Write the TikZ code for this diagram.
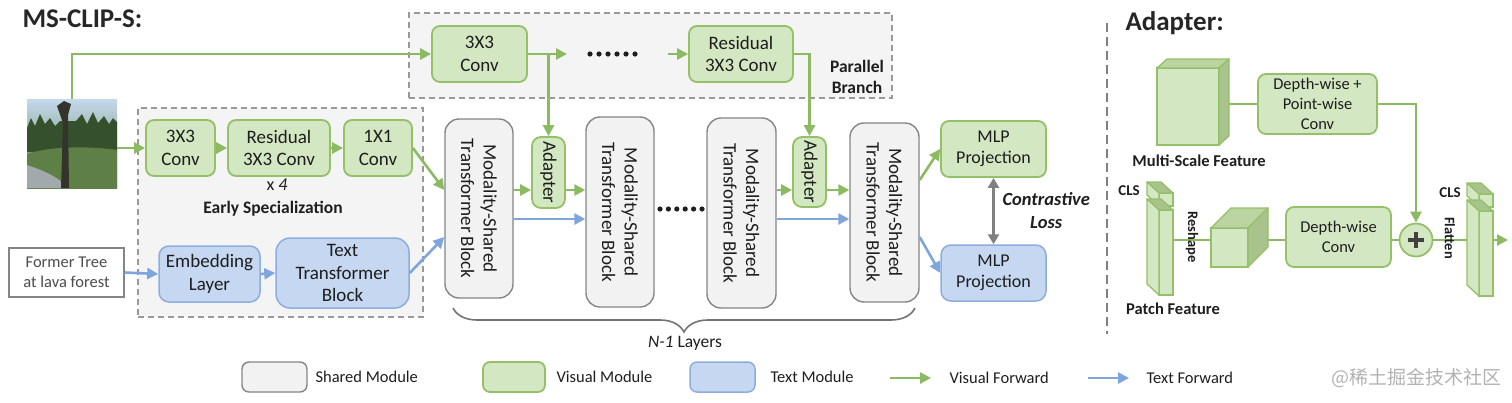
\documentclass[tikz,border=0pt]{standalone}
\usepackage{fontspec}
\setmainfont{Carlito}
\newfontfamily\cjkfont{Noto Sans CJK SC}
\usetikzlibrary{arrows.meta,calc,decorations.pathreplacing}

\definecolor{visfill}{HTML}{D4E7C3}
\definecolor{visdraw}{HTML}{94C067}
\definecolor{visline}{HTML}{8CBA62}
\definecolor{visside}{HTML}{A8C38C}
\definecolor{vistop}{HTML}{BCD4A2}
\definecolor{txtfill}{HTML}{C5D7F1}
\definecolor{txtdraw}{HTML}{8EADDC}
\definecolor{txtline}{HTML}{7EA6DD}
\definecolor{shfill}{HTML}{F2F2F2}
\definecolor{shdraw}{HTML}{858585}
\definecolor{regionfill}{HTML}{F4F4F4}
\definecolor{ink}{HTML}{1E1E1E}
\definecolor{skytop}{HTML}{C4D9EE}
\definecolor{treedark}{HTML}{34502D}
\definecolor{shrub}{HTML}{5E8046}
\definecolor{trail}{HTML}{A2A9AD}
\definecolor{trunk}{HTML}{34342B}

% name, centre, width, height, depth x, depth y, side edge, top fill, side fill
\newcommand\featbox[9]{%
  \node[featfront, minimum width=#3, minimum height=#4] (#1) at (#2) {};
  \filldraw[featface, fill=#8] (#1.north west) -- ++(#5,#6) -- ($(#1.north east)+(#5,#6)$) -- (#1.north east) -- cycle;
  \filldraw[featface, fill=#9] (#1.north #7) -- ++(#5,#6) -- ($(#1.south #7)+(#5,#6)$) -- (#1.south #7) -- cycle;
}

\begin{document}
\begin{tikzpicture}[x=1pt, y=-1pt,
	every node/.style={font=\fontsize{19}{22.5}\selectfont, text=ink, align=center},
	region/.style={draw=gray!80, fill=regionfill, line width=1.2pt, dash pattern=on 6pt off 4pt},
	shared/.style={draw=shdraw, fill=shfill, line width=1.4pt, rounded corners=14pt},
	visual/.style={draw=visdraw, fill=visfill, line width=1.8pt, rounded corners=8pt},
	textual/.style={draw=txtdraw, fill=txtfill, line width=1.5pt, rounded corners=10pt},
	featfront/.style={draw=visdraw, fill=visfill, line width=1.3pt, inner sep=0pt, outer sep=0pt},
	featface/.style={draw=visdraw, line width=1.3pt, line join=round},
	vline/.style={draw=visline, line width=2.6pt},
	vflow/.style={vline, -{Triangle[length=11pt, width=11pt]}},
	tflow/.style={draw=txtline, line width=2.6pt, -{Triangle[length=11pt, width=11pt]}},
	heading/.style={font=\bfseries\fontsize{27}{30}\selectfont, text=black!85, anchor=base west},
	boldtag/.style={font=\bfseries\fontsize{17.5}{20.5}\selectfont},
	feattag/.style={font=\bfseries\fontsize{16.5}{20}\selectfont},
	adtext/.style={font=\fontsize{16.5}{20}\selectfont},
	legtext/.style={font=\fontsize{16.5}{20}\selectfont, anchor=west}]
\useasboundingbox (0,0) rectangle (1512,402);

\node[heading] (title) at (19,27) {MS-CLIP-S:};
\node[heading] (adtitle) at (1122,30) {Adapter:};

% dashed regions
\node[region, minimum width=483, minimum height=85] (parallel) at (650.5,55.5) {};
\node[region, minimum width=285, minimum height=209] (early) at (280.5,212.5) {};
\node[boldtag] (partag) at (857,77) {Parallel\\Branch};
\node[boldtag] (earlytag) at (273,209) {Early Specialization};

% input photo
\node[inner sep=0pt, minimum width=90, minimum height=89, top color=skytop, bottom color=shrub] (img) at (72,143.5) {};
\fill[treedark] (27,128) -- (31,118) -- (35,126) -- (40,114) -- (45,124) -- (50,118) -- (55,126) -- (60,121) -- (76,121) -- (82,114) -- (87,124) -- (93,112) -- (98,123) -- (104,116) -- (109,124) -- (113,118) -- (117,122) -- (117,152) -- (27,152) -- cycle;
\fill[shrub] (27,154) .. controls (50,146) and (90,146) .. (117,150) -- (117,188) -- (27,188) -- cycle;
\fill[trail] (27,165) .. controls (45,171) and (60,178) .. (68,188) -- (27,188) -- cycle;
\fill[trunk] (61,188) -- (63,123) -- (57,106) -- (64,101) -- (71,104) -- (68,115) -- (69,188) -- cycle;

% early specialization
\node[visual, minimum width=69, minimum height=56] (c1) at (180.5,148) {3X3\\Conv};
\node[visual, minimum width=102, minimum height=56] (c2) at (279,148) {Residual\\3X3 Conv};
\node[visual, minimum width=68, minimum height=56] (c3) at (378,148) {1X1\\Conv};
\node[font=\fontsize{18}{22}\selectfont] (times) at (277,185) {x \textit{4}};
\node[draw=shdraw, fill=white, line width=1.4pt, minimum width=115, minimum height=49, text=black!70, font=\fontsize{16.5}{20}\selectfont] (former) at (66.5,272.5) {Former Tree\\at lava forest};
\node[textual, minimum width=101, minimum height=56] (emb) at (209.5,274) {Embedding\\Layer};
\node[textual, rounded corners=14pt, minimum width=133, minimum height=70] (ttb) at (342.5,273) {Text\\Transformer\\Block};

% parallel branch
\node[visual, minimum width=95, minimum height=56] (pconv) at (479.5,54) {3X3\\Conv};
\node[visual, minimum width=104, minimum height=56] (pres) at (741,54) {Residual\\3X3 Conv};
\coordinate (pgap) at (567,54);
\coordinate (pback) at (668,54);
\foreach \i in {0,...,5} \fill[ink] (590+\i*9,54) circle (2.6pt);

% shared blocks and adapters
\node[shared, minimum width=68, minimum height=179, label={[rotate=-90]center:{Modality-Shared\\Transformer Block}}] (mstb1) at (479,208.5) {};
\node[shared, minimum width=68, minimum height=190, label={[rotate=-90]center:{Modality-Shared\\Transformer Block}}] (mstb2) at (620,212) {};
\node[shared, minimum width=69, minimum height=190, label={[rotate=-90]center:{Modality-Shared\\Transformer Block}}] (mstb3) at (741.5,213) {};
\node[shared, minimum width=69, minimum height=179, label={[rotate=-90]center:{Modality-Shared\\Transformer Block}}] (mstb4) at (884.5,212.5) {};
\node[visual, rounded corners=9pt, minimum width=33, minimum height=71, label={[rotate=-90]center:Adapter}] (ad1) at (548.5,172.5) {};
\node[visual, rounded corners=9pt, minimum width=33, minimum height=70, label={[rotate=-90]center:Adapter}] (ad2) at (809.5,172) {};
\foreach \i in {0,...,5} \fill[ink] (660+\i*8.4,209) circle (2.6pt);
\node[visual, minimum width=105, minimum height=56, font=\fontsize{18}{21.5}\selectfont] (mlpv) at (993.5,149) {MLP\\Projection};
\node[textual, minimum width=105, minimum height=56, font=\fontsize{18}{21.5}\selectfont] (mlpt) at (993.5,273) {MLP\\Projection};
\node[font=\bfseries\itshape\fontsize{18.5}{23}\selectfont, anchor=west] (loss) at (999,211) {Contrastive\\Loss};

\coordinate (vy) at (0,190);
\coordinate (ty) at (0,219);
\coordinate (tin) at (0,237);
\coordinate (vout) at (0,180);

% visual forward
\draw[vflow] (img.north) |- (pconv.west);
\draw[vflow] (img.east |- c1.west) -- (c1.west);
\draw[vflow] (c1.east) -- (c2.west);
\draw[vflow] (c2.east) -- (c3.west);
\draw[vflow] (c3.east) -- (mstb1.west |- vy);
\draw[vflow] (pconv.east) -- (pgap);
\draw[vflow] (pback) -- (pres.west);
\draw[vflow] (pconv.east -| ad1) -- (ad1.north);
\draw[vflow] (pres.east) -| (ad2.north);
\draw[vflow] (mstb1.east |- vy) -- (ad1.west |- vy);
\draw[vflow] (ad1.east |- vy) -- (mstb2.west |- vy);
\draw[vflow] (mstb3.east |- vy) -- (ad2.west |- vy);
\draw[vflow] (ad2.east |- vy) -- (mstb4.west |- vy);
\draw[vflow] (mstb4.east |- vout) -- (mlpv.west);

% text forward
\draw[tflow] (former.east) -- (emb.west);
\draw[tflow] (emb.east) -- (ttb.west);
\draw[tflow] (ttb.east) -- (mstb1.west |- tin);
\draw[tflow] (mstb1.east |- ty) -- (mstb2.west |- ty);
\draw[tflow] (mstb3.east |- ty) -- (mstb4.west |- ty);
\draw[tflow] (mstb4.east |- tin) -- (mlpt.west);

\draw[draw=black!50, line width=2.6pt, {Triangle[length=10pt, width=11pt]}-{Triangle[length=10pt, width=11pt]}] (mlpv.south) -- (mlpt.north);

% N-1 layers
\coordinate (bl) at (453,308);
\coordinate (br) at (915,308);
\draw[decorate, decoration={brace, mirror, amplitude=24pt}, draw=black!55, line width=1.6pt] (bl) -- (br);
\node[font=\fontsize{17.5}{21}\selectfont] (nlayers) at (685,343) {\textit{N-1} Layers};

% divider
\coordinate (dtop) at (1107,23);
\coordinate (dbot) at (1107,334);
\draw[black!50, line width=1.3pt, dash pattern=on 9pt off 5pt] (dtop) -- (dbot);

% adapter detail
\featbox{ms}{1188,106.5}{62}{77}{10}{-9}{east}{vistop}{visside}
\node[feattag] (mstag) at (1199,161) {Multi-Scale Feature};
\node[visual, minimum width=119, minimum height=60, adtext] (dwpw) at (1317.5,104) {Depth-wise +\\Point-wise\\Conv};
\coordinate (msr) at ($(ms.east)+(10,0)$);
\draw[vline] (msr |- dwpw.west) -- (dwpw.west);

\featbox{pcls}{1166,199.5}{14}{13}{-12}{-11}{west}{visside}{visfill}
\featbox{pf}{1166,252.5}{14}{85}{-12}{-11}{west}{visside}{visfill}
\node[feattag, font=\bfseries\fontsize{15}{18}\selectfont] (clsl) at (1129,191) {CLS};
\node[feattag] (pftag) at (1173,309) {Patch Feature};

\featbox{cb}{1229.5,247.5}{37}{39}{20}{-20}{east}{vistop}{visside}
\coordinate (cbr) at ($(cb.east)+(20,0)$);
\node[visual, minimum width=105, minimum height=60, adtext] (dwc) at (1338.5,237) {Depth-wise\\Conv};
\node[circle, draw=visdraw, fill=visfill, line width=1.8pt, minimum size=33, inner sep=0pt] (plus) at (1416,240) {};
\draw[line width=3.6pt, black!75] ($(plus)+(-8,0)$) -- ($(plus)+(8,0)$) ($(plus)+(0,-8)$) -- ($(plus)+(0,8)$);

\featbox{rcls}{1486,200.5}{14}{13}{-12}{-11}{west}{visside}{visfill}
\featbox{rf}{1486,253.5}{14}{85}{-12}{-11}{west}{visside}{visfill}
\node[feattag, font=\bfseries\fontsize{15}{18}\selectfont] (clsr) at (1450,193) {CLS};
\coordinate (rfl) at ($(rf.west)+(-12,0)$);
\coordinate (outp) at (1508,240);

\coordinate (ay) at (0,240);
\draw[vline] (pf.east |- ay) -- (cb.west |- ay);
\draw[vline] (cbr |- ay) -- (dwc.west |- ay);
\draw[vline] (dwc.east |- ay) -- (plus.west);
\draw[vline] (plus.east) -- (rfl |- ay);
\draw[vflow] (rf.east |- ay) -- (outp);
\draw[vflow] (dwpw.east) -| (plus.north);
\node[font=\bfseries\fontsize{14.5}{17}\selectfont, rotate=-90] (reshape) at (1192,237) {Reshape};
\node[font=\bfseries\fontsize{14.5}{17}\selectfont, rotate=-90] (flatten) at (1450,238) {Flatten};

% legend
\node[shared, rounded corners=7pt, minimum width=65, minimum height=30] (legsh) at (274.5,377) {};
\node[legtext] (legsht) at (312,377) {Shared Module};
\node[visual, rounded corners=7pt, minimum width=62, minimum height=30] (legvis) at (514,377) {};
\node[legtext] (legvist) at (553,377) {Visual Module};
\node[textual, rounded corners=7pt, minimum width=65, minimum height=30] (legtxt) at (722.5,377) {};
\node[legtext] (legtxtt) at (767,377) {Text Module};
\coordinate (lva) at (890,378);
\coordinate (lvb) at (931,378);
\draw[vflow] (lva) -- (lvb);
\node[legtext] (legvf) at (946,378) {Visual Forward};
\coordinate (lta) at (1088,378);
\coordinate (ltb) at (1129,378);
\draw[tflow] (lta) -- (ltb);
\node[legtext] (legtf) at (1143,378) {Text Forward};
\node[anchor=west, text=gray!60, font=\cjkfont\fontsize{19}{22}\selectfont] (mark) at (1328,378) {@稀土掘金技术社区};
\end{tikzpicture}
\end{document}
